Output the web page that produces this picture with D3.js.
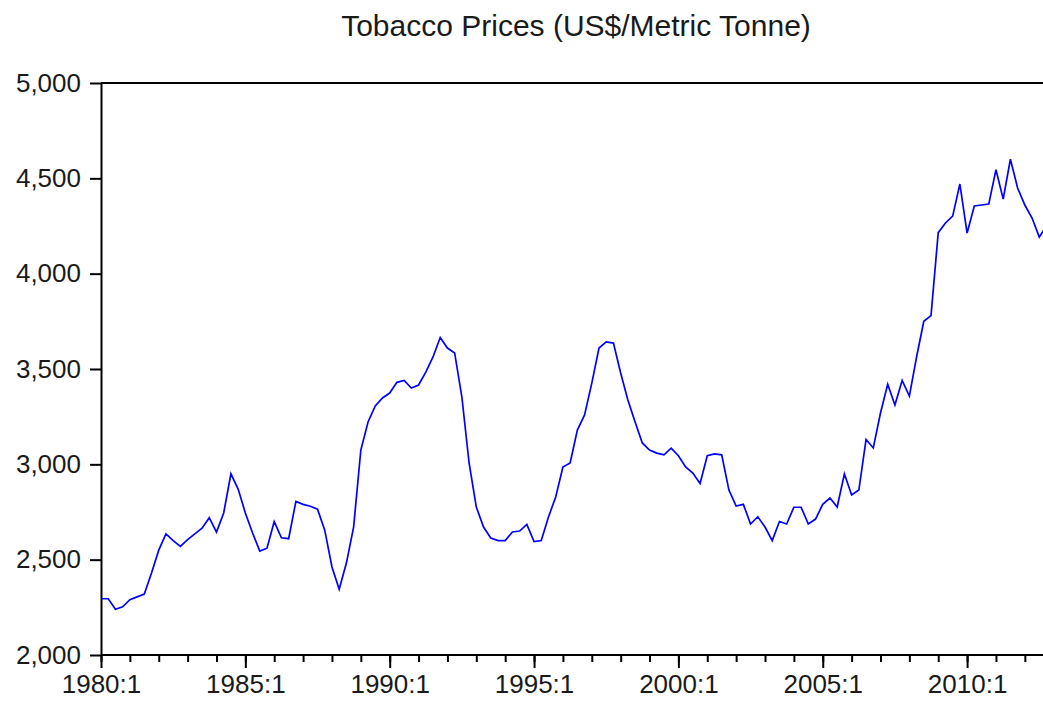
<!DOCTYPE html>
<html>
<head>
<meta charset="utf-8">
<script src="https://cdn.jsdelivr.net/npm/d3@7"></script>
<style>
  body { margin: 0; background: #fff; }
  svg { display: block; }
  .tick text { font-family: "Liberation Sans", Arial, sans-serif; fill: #1a1a1a; }
  .title { font-family: "Liberation Sans", Arial, sans-serif; fill: #1a1a1a; }
</style>
</head>
<body>
<div id="chart"></div>
<script>
// quarterly tobacco prices, 1980:1 .. 2012:4 (US$/metric tonne)
const startYear = 1980;
const prices = [
  2295, 2295, 2240, 2253,   // 1980
  2290, 2305, 2320, 2430,   // 1981
  2550, 2635, 2600, 2570,   // 1982
  2605, 2635, 2665, 2720,   // 1983
  2645, 2745, 2950, 2870,   // 1984
  2745, 2640, 2545, 2560,   // 1985
  2700, 2615, 2610, 2805,   // 1986
  2790, 2780, 2765, 2655,   // 1987
  2462, 2345, 2482, 2671,   // 1988
  3075, 3222, 3306, 3348,   // 1989
  3374, 3430, 3440, 3400,   // 1990
  3416, 3484, 3563, 3665,   // 1991
  3610, 3584, 3353, 3007,   // 1992
  2776, 2671, 2614, 2600,   // 1993
  2600, 2645, 2650, 2685,   // 1994
  2595, 2600, 2724, 2829,   // 1995
  2986, 3007, 3180, 3259,   // 1996
  3426, 3610, 3642, 3636,   // 1997
  3479, 3337, 3222, 3112,   // 1998
  3075, 3059, 3050, 3085,   // 1999
  3045, 2986, 2954, 2900,   // 2000
  3045, 3055, 3050, 2865,   // 2001
  2781, 2790, 2687, 2725,   // 2002
  2671, 2600, 2700, 2687,   // 2003
  2775, 2775, 2687, 2713,   // 2004
  2790, 2823, 2776, 2950,   // 2005
  2839, 2865, 3130, 3086,   // 2006
  3269, 3420, 3311, 3440,   // 2007
  3358, 3563, 3750, 3780,   // 2008
  4215, 4266, 4302, 4470,   // 2009
  4213, 4355, 4360, 4365,   // 2010
  4545, 4391, 4600, 4449,   // 2011
  4360, 4292, 4192, 4250    // 2012
];
const yTicks = [2000, 2500, 3000, 3500, 4000, 4500, 5000];
const majorYears = [1980, 1985, 1990, 1995, 2000, 2005, 2010];
const minorYears = d3.range(1980, 2014);
const title = "Tobacco Prices (US$/Metric Tonne)";

const width = 1043, height = 704;
const margin = {top: 83, left: 101, bottom: 49};

const data = prices.map((v, i) => ({t: startYear + i / 4, v: v}));

const svg = d3.select("#chart").append("svg")
    .attr("width", width)
    .attr("height", height);

// one year ~ 28.87px, the series runs off the right edge
const x = d3.scaleLinear()
    .domain([1980, 2013])
    .range([margin.left, margin.left + 33 * 28.87]);
const y = d3.scaleLinear()
    .domain([2000, 5000])
    .range([height - margin.bottom, margin.top]);

svg.append("text")
    .attr("class", "title")
    .attr("x", 576)
    .attr("y", 36)
    .attr("text-anchor", "middle")
    .style("font-size", "30px")
    .text(title);

// frame: top line
svg.append("line")
    .attr("x1", margin.left).attr("x2", width)
    .attr("y1", margin.top).attr("y2", margin.top)
    .attr("stroke", "#000").attr("stroke-width", 2);

// minor year ticks
svg.append("g")
    .attr("transform", `translate(0,${height - margin.bottom})`)
    .call(d3.axisBottom(x).tickValues(minorYears).tickSize(7).tickFormat("").tickSizeOuter(0))
    .call(g => g.select(".domain").remove())
    .selectAll("line").attr("stroke", "#000").attr("stroke-width", 2);

const xAxis = svg.append("g")
    .attr("transform", `translate(0,${height - margin.bottom})`)
    .call(d3.axisBottom(x).tickValues(majorYears).tickSize(13).tickSizeOuter(0)
        .tickFormat(d => d + ":1"));
xAxis.select(".domain").attr("stroke", "#000").attr("stroke-width", 2)
    .attr("d", `M${margin.left},0H${width}`);
xAxis.selectAll(".tick line").attr("stroke", "#000").attr("stroke-width", 2);
xAxis.selectAll(".tick text").style("font-size", "26px").attr("dy", "0.92em").attr("y", 14);

const yAxis = svg.append("g")
    .attr("transform", `translate(${margin.left},0)`)
    .call(d3.axisLeft(y).tickValues(yTicks).tickSize(11).tickSizeOuter(0)
        .tickFormat(d3.format(",")));
yAxis.select(".domain").attr("stroke", "#000").attr("stroke-width", 2);
yAxis.selectAll(".tick line").attr("stroke", "#000").attr("stroke-width", 2);
yAxis.selectAll(".tick text").style("font-size", "26px").attr("x", -20);

const line = d3.line()
    .x(d => x(d.t))
    .y(d => y(d.v));

svg.append("path")
    .datum(data)
    .attr("fill", "none")
    .attr("stroke", "#0000ff")
    .attr("stroke-width", 1.7)
    .attr("d", line);
</script>
</body>
</html>
